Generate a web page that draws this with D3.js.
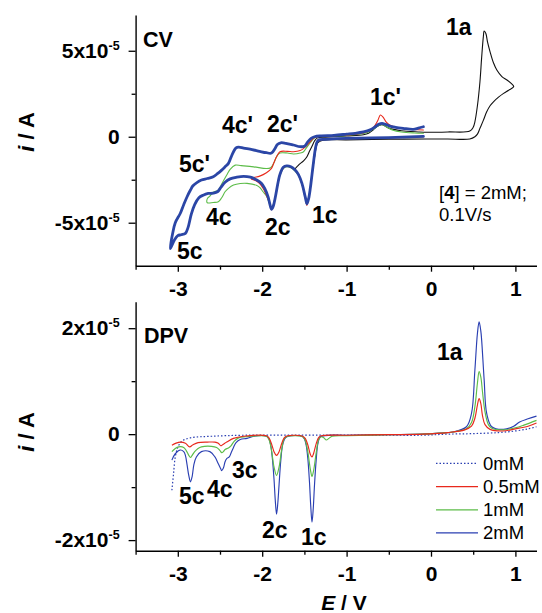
<!DOCTYPE html>
<html><head><meta charset="utf-8">
<script src="https://cdn.jsdelivr.net/npm/d3@7"></script>
<style>
body{margin:0;background:#fff}
svg{display:block}
text{font-family:"Liberation Sans",Arial,Helvetica,sans-serif}
</style>
</head><body>
<svg id="c" width="542" height="613"></svg>
<script>
// ---------- DATA (E in V, i in 1e-5 A) ----------
const xMajorTicks = [-3, -2, -1, 0, 1];
const xMinorTicks = [-3.5, -2.5, -1.5, -0.5, 0.5];
const cvMajorTicks = [-5, 0, 5];
const cvMinorTicks = [-2.5, 2.5];
const dpvMajorTicks = [-2, 0, 2];
const dpvMinorTicks = [-1, 1];
const legendLabels = ["0mM", "0.5mM", "1mM", "2mM"];

// CV: black trace
const cvBlack = [[-0.05,-0.13],[-0.5,-0.15],[-1.0,-0.18],[-1.28,-0.2],[-1.34,-0.35],[-1.38,-1.2],[-1.42,-2.6],[-1.46,-3.8],[-1.49,-3.5],[-1.53,-2.7],[-1.57,-2.2],[-1.61,-1.9],
 [-1.57,-1.65],[-1.51,-1.4],[-1.47,-1.16],[-1.44,-0.85],[-1.41,-0.55],[-1.38,-0.25],[-1.35,-0.08],[-1.25,-0.02],[-1.0,0.05],[-0.8,0.12],[-0.74,0.2],[-0.69,0.38],[-0.64,0.6],[-0.58,0.7],[-0.5,0.5],[-0.35,0.35],[-0.15,0.28],[-0.05,0.26],
 [0.2,0.28],[0.46,0.33],[0.5,0.55],[0.52,0.87],[0.55,1.8],[0.58,3.2],[0.6,4.6],[0.62,5.81],[0.63,6.15],[0.65,6.0],[0.67,5.5],[0.7,4.94],[0.74,4.3],[0.78,3.88],[0.84,3.5],[0.9,3.3],[0.95,3.1],[0.98,2.91],
 [0.92,2.7],[0.86,2.52],[0.8,2.3],[0.74,2.03],[0.7,1.8],[0.66,1.45],[0.62,0.95],[0.58,0.49],[0.55,0.15],[0.52,0.0],[0.46,-0.13],[0.2,-0.13],[-0.05,-0.13]];
// CV: 0.5 mM (red)
const cvRed = [[-0.09,0.0],[-0.5,-0.07],[-1.0,-0.12],[-1.3,-0.18],[-1.35,-0.32],[-1.39,-1.4],[-1.43,-3.0],[-1.47,-4.0],[-1.49,-3.55],[-1.53,-2.75],[-1.57,-2.2],[-1.61,-1.95],[-1.66,-1.78],[-1.71,-1.72],[-1.75,-1.82],[-1.79,-2.22],[-1.84,-3.4],[-1.89,-4.25],[-1.91,-3.9],[-1.95,-3.4],[-1.99,-3.0],[-2.03,-2.72],[-2.08,-2.55],[-2.13,-2.45],
 [-2.1,-2.38],[-2.03,-2.29],[-1.95,-2.09],[-1.89,-1.84],[-1.86,-1.5],[-1.83,-1.16],[-1.79,-0.87],[-1.7,-0.85],[-1.63,-0.87],[-1.55,-0.8],[-1.51,-0.68],[-1.47,-0.5],[-1.43,-0.29],[-1.39,-0.08],[-1.35,0.0],[-1.2,0.04],[-1.0,0.1],[-0.85,0.18],[-0.75,0.3],[-0.68,0.55],[-0.63,0.95],[-0.6,1.26],[-0.57,1.15],[-0.53,0.85],[-0.49,0.68],[-0.42,0.55],[-0.33,0.47],[-0.21,0.42],[-0.09,0.39]];
// CV: 1 mM (green)
const cvGreen = [[-0.09,0.0],[-0.5,-0.07],[-1.0,-0.12],[-1.3,-0.18],[-1.35,-0.32],[-1.39,-1.4],[-1.43,-3.0],[-1.47,-3.95],[-1.49,-3.5],[-1.53,-2.75],[-1.57,-2.25],[-1.61,-2.0],[-1.66,-1.8],[-1.71,-1.75],[-1.75,-1.85],[-1.79,-2.25],[-1.84,-3.4],[-1.89,-4.2],[-1.91,-3.95],[-1.95,-3.45],[-1.99,-3.2],[-2.03,-2.95],[-2.07,-2.82],[-2.18,-2.71],[-2.26,-2.72],[-2.34,-2.81],[-2.4,-3.0],[-2.44,-3.2],[-2.48,-3.55],[-2.52,-3.78],[-2.58,-3.82],[-2.65,-3.84],
 [-2.65,-3.6],[-2.62,-3.45],[-2.58,-3.22],[-2.52,-3.1],[-2.48,-2.75],[-2.42,-2.23],[-2.38,-1.9],[-2.32,-1.65],[-2.25,-1.68],[-2.1,-1.75],[-1.95,-1.85],[-1.9,-1.8],[-1.86,-1.5],[-1.83,-1.16],[-1.79,-0.95],[-1.7,-0.95],[-1.63,-1.0],[-1.55,-0.95],[-1.51,-0.87],[-1.47,-0.6],[-1.43,-0.35],[-1.39,-0.1],[-1.35,0.0],[-1.2,0.03],[-1.0,0.08],[-0.85,0.15],[-0.75,0.25],[-0.68,0.45],[-0.62,0.65],[-0.58,0.72],[-0.52,0.55],[-0.45,0.38],[-0.35,0.28],[-0.2,0.22],[-0.09,0.2]];
// CV: 2 mM (blue, thick)
const cvBlue = [[-0.09,0.02],[-0.5,-0.05],[-1.0,-0.1],[-1.25,-0.15],[-1.32,-0.17],[-1.35,-0.3],[-1.37,-0.7],[-1.39,-1.4],[-1.41,-2.2],[-1.43,-3.0],[-1.45,-3.6],[-1.47,-3.9],[-1.49,-3.5],[-1.53,-2.7],[-1.57,-2.2],[-1.61,-1.94],[-1.66,-1.75],[-1.71,-1.7],[-1.75,-1.78],[-1.79,-2.2],[-1.81,-2.6],[-1.84,-3.4],[-1.87,-4.05],[-1.89,-4.22],[-1.91,-3.9],[-1.93,-3.5],[-1.97,-3.0],[-2.01,-2.7],[-2.07,-2.5],[-2.14,-2.35],[-2.22,-2.3],[-2.3,-2.35],[-2.38,-2.45],[-2.44,-2.65],[-2.49,-2.95],[-2.53,-3.2],[-2.58,-3.28],[-2.64,-3.3],[-2.7,-3.4],[-2.75,-3.55],[-2.8,-3.95],[-2.84,-4.5],[-2.88,-5.3],[-2.91,-5.62],[-2.96,-5.7],[-3.0,-5.75],[-3.04,-6.0],[-3.09,-6.5],
 [-3.06,-5.6],[-3.03,-5.0],[-2.97,-4.45],[-2.93,-3.95],[-2.89,-3.49],[-2.85,-3.1],[-2.82,-2.85],[-2.77,-2.65],[-2.72,-2.52],[-2.65,-2.43],[-2.58,-2.33],[-2.53,-2.15],[-2.48,-1.94],[-2.44,-1.75],[-2.4,-1.55],[-2.37,-1.2],[-2.34,-0.87],[-2.31,-0.65],[-2.28,-0.6],[-2.22,-0.66],[-2.12,-0.75],[-2.03,-0.85],[-1.95,-0.93],[-1.89,-0.95],[-1.85,-0.7],[-1.82,-0.45],[-1.78,-0.35],[-1.72,-0.38],[-1.63,-0.48],[-1.55,-0.58],[-1.5,-0.55],[-1.46,-0.3],[-1.42,-0.1],[-1.38,0.0],[-1.3,0.05],[-1.15,0.08],[-1.0,0.15],[-0.9,0.2],[-0.8,0.28],[-0.72,0.4],[-0.66,0.58],[-0.62,0.72],[-0.58,0.78],[-0.54,0.72],[-0.49,0.62],[-0.42,0.55],[-0.33,0.49],[-0.21,0.43],[-0.15,0.5],[-0.09,0.58]];

// DPV
const dpv0 = [[-3.07,-1.06],[-3.05,-0.74],[-3.03,-0.43],[-3.0,-0.25],[-2.95,-0.13],[-2.85,-0.07],[-2.6,-0.04],[-2.2,-0.02],[-1.5,-0.02],[-1.0,-0.02],[-0.5,-0.02],[-0.1,-0.02],[0.2,0.0],[0.5,0.01],[0.8,0.03],[1.0,0.06],[1.15,0.1],[1.25,0.14]];
const dpv05 = [[-3.07,-0.21],[-3.02,-0.17],[-2.97,-0.15],[-2.91,-0.17],[-2.86,-0.24],[-2.82,-0.2],[-2.76,-0.16],[-2.65,-0.15],[-2.56,-0.15],[-2.52,-0.17],[-2.49,-0.22],[-2.46,-0.19],[-2.42,-0.15],[-2.34,-0.08],[-2.22,-0.04],[-1.95,-0.03],[-1.92,-0.07],[-1.89,-0.18],[-1.86,-0.33],[-1.83,-0.4],[-1.8,-0.33],[-1.77,-0.18],[-1.74,-0.07],[-1.7,-0.03],[-1.52,-0.04],[-1.49,-0.08],[-1.46,-0.2],[-1.43,-0.38],[-1.41,-0.43],[-1.39,-0.36],[-1.36,-0.18],[-1.33,-0.06],[-1.3,-0.03],[-1.0,-0.02],[-0.5,-0.01],[-0.1,0.0],[0.2,0.03],[0.4,0.08],[0.48,0.15],[0.52,0.3],[0.55,0.55],[0.57,0.67],[0.59,0.58],[0.61,0.35],[0.64,0.18],[0.7,0.09],[0.85,0.06],[1.0,0.1],[1.15,0.15],[1.25,0.21]];
const dpv1 = [[-3.07,-0.33],[-3.03,-0.27],[-2.99,-0.24],[-2.93,-0.25],[-2.9,-0.31],[-2.87,-0.4],[-2.85,-0.44],[-2.83,-0.4],[-2.8,-0.33],[-2.76,-0.27],[-2.72,-0.24],[-2.6,-0.23],[-2.54,-0.25],[-2.5,-0.31],[-2.48,-0.35],[-2.46,-0.33],[-2.44,-0.29],[-2.4,-0.26],[-2.37,-0.22],[-2.33,-0.13],[-2.28,-0.07],[-2.2,-0.05],[-1.95,-0.04],[-1.92,-0.1],[-1.89,-0.3],[-1.86,-0.62],[-1.83,-0.78],[-1.8,-0.62],[-1.77,-0.3],[-1.74,-0.09],[-1.7,-0.04],[-1.52,-0.05],[-1.49,-0.12],[-1.46,-0.33],[-1.43,-0.66],[-1.41,-0.8],[-1.39,-0.68],[-1.36,-0.35],[-1.33,-0.1],[-1.3,-0.05],[-1.27,-0.07],[-1.24,-0.11],[-1.21,-0.08],[-1.17,-0.04],[-1.0,-0.03],[-0.5,-0.01],[-0.1,0.0],[0.1,0.02],[0.26,0.04],[0.42,0.1],[0.48,0.22],[0.52,0.52],[0.55,0.96],[0.57,1.18],[0.59,1.08],[0.61,0.8],[0.64,0.42],[0.68,0.18],[0.72,0.11],[0.86,0.08],[1.0,0.12],[1.1,0.17],[1.25,0.26]];
const dpv2 = [[-3.07,-0.49],[-3.03,-0.37],[-2.97,-0.3],[-2.93,-0.33],[-2.91,-0.4],[-2.89,-0.58],[-2.87,-0.78],[-2.85,-0.9],[-2.83,-0.8],[-2.81,-0.58],[-2.78,-0.43],[-2.72,-0.33],[-2.62,-0.33],[-2.56,-0.43],[-2.52,-0.56],[-2.49,-0.66],[-2.48,-0.69],[-2.46,-0.64],[-2.44,-0.52],[-2.42,-0.46],[-2.39,-0.43],[-2.37,-0.36],[-2.34,-0.25],[-2.31,-0.16],[-2.26,-0.1],[-2.18,-0.08],[-2.1,-0.04],[-1.95,-0.04],[-1.92,-0.09],[-1.9,-0.2],[-1.88,-0.45],[-1.86,-0.85],[-1.845,-1.25],[-1.83,-1.51],[-1.815,-1.3],[-1.8,-0.95],[-1.78,-0.5],[-1.76,-0.22],[-1.73,-0.08],[-1.69,-0.04],[-1.53,-0.04],[-1.5,-0.09],[-1.48,-0.2],[-1.46,-0.45],[-1.44,-0.9],[-1.425,-1.35],[-1.41,-1.66],[-1.395,-1.4],[-1.38,-0.95],[-1.36,-0.48],[-1.34,-0.18],[-1.31,-0.05],[-1.0,-0.02],[-0.5,-0.01],[-0.1,0.0],[0.1,0.02],[0.26,0.04],[0.42,0.14],[0.48,0.39],[0.52,1.21],[0.55,1.9],[0.57,2.12],[0.59,1.95],[0.6,1.78],[0.63,1.02],[0.66,0.39],[0.72,0.14],[0.86,0.09],[0.98,0.15],[1.05,0.23],[1.15,0.29],[1.25,0.34]];

// ---------- DRAW ----------
const svg = d3.select("#c");
const C = {blue:"#2b46a6", dblue:"#2a3fb2", red:"#e8291c", green:"#5cbc48", black:"#111"};

const x = d3.scaleLinear().domain([-3.5, 1.25]).range([135.6, 536.5]);
const yT = d3.scaleLinear().domain([-7.5, 7.08]).range([265.7, 15]);
const yB = d3.scaleLinear().domain([-2.2, 2.5]).range([550.7, 301.7]);

function sciLabel(sel, v) {
  sel.text(null);
  if (v === 0) { sel.text("0"); return; }
  sel.append("tspan").text((v < 0 ? "-" : "") + Math.abs(v) + "x10");
  sel.append("tspan").attr("dy", -8).attr("font-size", 12.5).text("-5");
}

function drawAxes(y, yMaj, yMin) {
  const yPix = y.range()[0];
  svg.append("g").attr("transform", `translate(0,${yPix})`)
    .call(d3.axisBottom(x).tickValues(xMinorTicks).tickSize(4).tickSizeOuter(0).tickFormat(""))
    .call(g => g.select(".domain").remove())
    .call(g => g.selectAll(".tick line").attr("stroke-width", 1.3));
  const gx = svg.append("g").attr("transform", `translate(0,${yPix})`)
    .call(d3.axisBottom(x).tickValues(xMajorTicks).tickSize(6).tickSizeOuter(0).tickPadding(9.5).tickFormat(d3.format("d")));
  gx.attr("font-size", 21).attr("font-weight", "bold");
  gx.select(".domain").attr("stroke-width", 1.4);
  gx.selectAll(".tick line").attr("stroke-width", 1.3);
  gx.selectAll(".tick text").text(d => d < 0 ? "-" + Math.abs(d) : d);
  svg.append("g").attr("transform", `translate(${x.range()[0]},0)`)
    .call(d3.axisLeft(y).tickValues(yMin).tickSize(4).tickSizeOuter(0).tickFormat(""))
    .call(g => g.select(".domain").remove())
    .call(g => g.selectAll(".tick line").attr("stroke-width", 1.3));
  const gy = svg.append("g").attr("transform", `translate(${x.range()[0]},0)`)
    .call(d3.axisLeft(y).tickValues(yMaj).tickSize(7).tickSizeOuter(0).tickPadding(9));
  gy.attr("font-size", 21).attr("font-weight", "bold");
  gy.select(".domain").attr("stroke-width", 1.4);
  gy.selectAll(".tick line").attr("stroke-width", 1.3);
  gy.selectAll(".tick text").each(function(d) { sciLabel(d3.select(this), d); });
}

drawAxes(yT, cvMajorTicks, cvMinorTicks);
drawAxes(yB, dpvMajorTicks, dpvMinorTicks);

const lineT = d3.line().x(d => x(d[0])).y(d => yT(d[1])).curve(d3.curveCatmullRom.alpha(0.5));
const lineB = d3.line().x(d => x(d[0])).y(d => yB(d[1])).curve(d3.curveCatmullRom.alpha(0.5));

[[cvBlack, C.black, 1.1], [cvGreen, C.green, 1.1], [cvRed, C.red, 1.1], [cvBlue, C.blue, 2.8]].forEach(([d, c, w]) => {
  svg.append("path").datum(d).attr("d", lineT).attr("fill", "none").attr("stroke", c)
    .attr("stroke-width", w).attr("stroke-linejoin", "round").attr("stroke-linecap", "round");
});

svg.append("path").datum(dpv0).attr("d", lineB).attr("fill", "none").attr("stroke", C.dblue)
  .attr("stroke-width", 1.2).attr("stroke-dasharray", "1.5,2");
[[dpv2, C.dblue], [dpv1, C.green], [dpv05, C.red]].forEach(([d, c]) => {
  svg.append("path").datum(d).attr("d", lineB).attr("fill", "none").attr("stroke", c)
    .attr("stroke-width", 1.15).attr("stroke-linejoin", "round");
});

// Legend
const legColors = [C.dblue, C.red, C.green, C.dblue];
const legY = [463.3, 486.7, 509.8, 532.9];
legendLabels.forEach((t, k) => {
  svg.append("line").attr("x1", 436).attr("x2", 478).attr("y1", legY[k]).attr("y2", legY[k])
    .attr("stroke", legColors[k]).attr("stroke-width", 1.2)
    .attr("stroke-dasharray", k === 0 ? "1.5,2" : null);
  svg.append("text").attr("x", 483).attr("y", legY[k] + 6.5).attr("font-size", 18.5).text(t);
});

function label(t, px, py, size = 23, weight = "bold") {
  return svg.append("text").attr("x", px).attr("y", py).attr("font-size", size).attr("font-weight", weight).text(t);
}
label("CV", 143, 46.5, 21.5);
label("1a", 446, 35);
label("1c'", 370, 105);
label("4c'", 222, 133);
label("2c'", 267, 132);
label("5c'", 179, 172);
label("4c", 206, 225);
label("2c", 265, 235);
label("1c", 312, 223);
label("5c", 177, 259);
const cond = svg.append("text").attr("x", 439).attr("y", 199).attr("font-size", 18.5);
cond.append("tspan").text("[");
cond.append("tspan").attr("font-weight", "bold").text("4");
cond.append("tspan").text("] = 2mM;");
svg.append("text").attr("x", 439).attr("y", 221).attr("font-size", 18.5).text("0.1V/s");

label("DPV", 144, 343, 21.5);
label("1a", 437, 360);
label("5c", 179, 504);
label("4c", 207, 497);
label("3c", 232, 478);
label("2c", 262, 538);
label("1c", 301, 545);

function yTitle(cy) {
  const t = svg.append("text").attr("transform", `translate(34,${cy}) rotate(-90)`)
    .attr("text-anchor", "middle").attr("font-size", 22).attr("font-weight", "bold");
  t.append("tspan").attr("font-style", "italic").text("i");
  t.append("tspan").text(" / A");
}
yTitle(132);
yTitle(432);
const xt = svg.append("text").attr("x", 344).attr("y", 609.5).attr("text-anchor", "middle")
  .attr("font-size", 21).attr("font-weight", "bold");
xt.append("tspan").attr("font-style", "italic").text("E");
xt.append("tspan").text(" / V");
</script>
</body></html>
